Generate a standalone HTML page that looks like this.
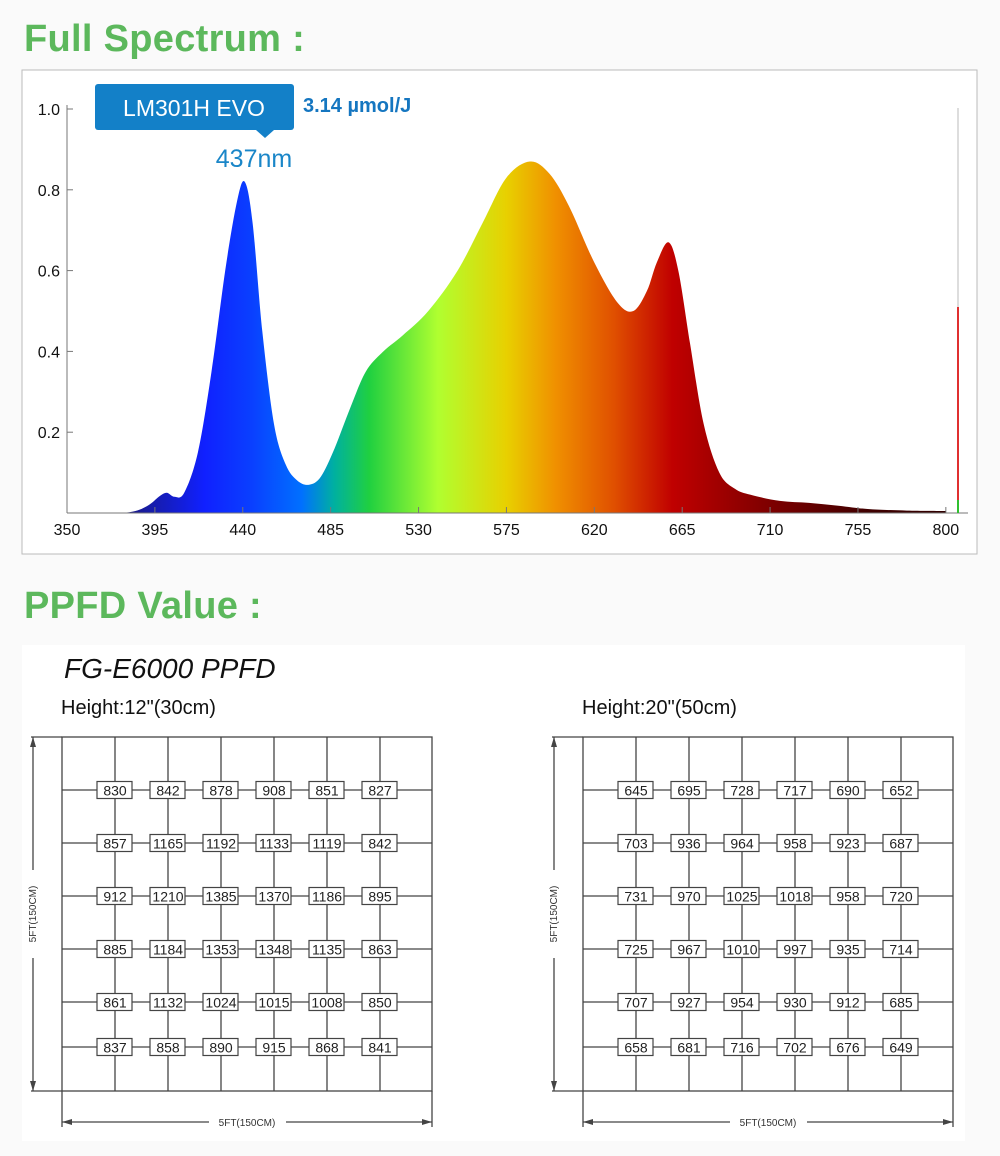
<!DOCTYPE html>
<html><head><meta charset="utf-8"><style>
body{margin:0;width:1000px;height:1156px;background:#fafafa;font-family:"Liberation Sans",sans-serif;position:relative;overflow:hidden}
.h{position:absolute;left:24px;color:#5cb85c;font-weight:bold;font-size:38px;margin:0;letter-spacing:0.3px}
svg{position:absolute;left:0;top:0}
</style></head><body>
<h1 class="h" style="top:18px">Full Spectrum :</h1>
<h1 class="h" style="top:585px">PPFD Value :</h1>
<svg id="s" width="1000" height="1156"></svg>
<script>
const wl=[350,375,385,392,397,401,405,410,417,424,431,437,441,445,450,456,462,468,474,480,487,495,503,512,522,535,550,563,575,587,597,607,620,632,640,647,652,658,663,669,676,684,692,700,715,730,745,760,780,800];
const inten=[0,0,0.005,0.02,0.04,0.05,0.04,0.05,0.15,0.35,0.6,0.77,0.82,0.72,0.45,0.22,0.12,0.08,0.07,0.09,0.16,0.26,0.35,0.4,0.44,0.5,0.6,0.72,0.83,0.87,0.84,0.76,0.62,0.52,0.5,0.55,0.62,0.67,0.6,0.42,0.22,0.1,0.06,0.045,0.03,0.025,0.018,0.01,0.006,0.005];
const xTicks=[350,395,440,485,530,575,620,665,710,755,800];
const yTicks=[0.2,0.4,0.6,0.8,1.0];
const grid1=[[830,842,878,908,851,827],[857,1165,1192,1133,1119,842],[912,1210,1385,1370,1186,895],[885,1184,1353,1348,1135,863],[861,1132,1024,1015,1008,850],[837,858,890,915,868,841]];
const grid2=[[645,695,728,717,690,652],[703,936,964,958,923,687],[731,970,1025,1018,958,720],[725,967,1010,997,935,714],[707,927,954,930,912,685],[658,681,716,702,676,649]];
const NS='http://www.w3.org/2000/svg';const s=document.getElementById('s');
function el(t,a,p){const e=document.createElementNS(NS,t);for(const k in a)e.setAttribute(k,a[k]);(p||s).appendChild(e);return e}
const X=v=>67+(v-350)*1.953, Y=v=>513-v*404;
const p1=el('rect',{x:22,y:70,width:955,height:484,fill:'#fff',stroke:'#bbb'});

const defs=el('defs',{});const g=el('linearGradient',{id:'sg',x1:X(350),x2:X(800),y1:0,y2:0,gradientUnits:'userSpaceOnUse'},defs);
[[380,'#1a1a80'],[420,'#1020ff'],[445,'#0a40ff'],[470,'#0070ff'],[487,'#00b0a0'],[505,'#20d040'],[540,'#b0ff30'],[575,'#e8d000'],[600,'#f09000'],[630,'#e05000'],[660,'#c00000'],[700,'#8a0000'],[760,'#400000'],[800,'#300000']].forEach(([w,c])=>el('stop',{offset:((w-350)/450).toFixed(3),'stop-color':c},g));
const pts=wl.map((w,i)=>[X(w),Y(inten[i])]);
let d='M'+pts[0][0]+','+pts[0][1];
for(let i=0;i<pts.length-1;i++){const p0=pts[Math.max(0,i-1)],p1_=pts[i],p2=pts[i+1],p3=pts[Math.min(pts.length-1,i+2)];
 const c1=[p1_[0]+(p2[0]-p0[0])/6,p1_[1]+(p2[1]-p0[1])/6],c2=[p2[0]-(p3[0]-p1_[0])/6,p2[1]-(p3[1]-p1_[1])/6];
 d+=` C${c1[0].toFixed(1)},${Math.min(513,c1[1]).toFixed(1)} ${c2[0].toFixed(1)},${Math.min(513,c2[1]).toFixed(1)} ${p2[0].toFixed(1)},${p2[1].toFixed(1)}`;}
d+=' L'+X(800)+','+Y(0)+'Z';
const area=el('path',{d:d,fill:'url(#sg)'});
const ya=el('line',{x1:67,y1:105,x2:67,y2:513,stroke:'#777'});
const xa=el('line',{x1:67,y1:513,x2:968,y2:513,stroke:'#777'});
yTicks.forEach(v=>{el('line',{x1:67,x2:73,y1:Y(v),y2:Y(v),stroke:'#777'});const t=el('text',{x:60,y:Y(v)+6,'text-anchor':'end','font-size':16,fill:'#111'});t.textContent=v.toFixed(1);});
xTicks.forEach(v=>{el('line',{x1:X(v),x2:X(v),y1:507,y2:513,stroke:'#777'});const t=el('text',{x:X(v),y:535,'text-anchor':'middle','font-size':16,fill:'#111'});t.textContent=v;});
el('line',{x1:958,x2:958,y1:108,y2:513,stroke:'#bbb'});el('line',{x1:958,x2:958,y1:307,y2:500,stroke:'#e03030',"stroke-width":2});el('line',{x1:958,x2:958,y1:500,y2:513,stroke:'#30c030',"stroke-width":2});
const cb=el('rect',{x:95,y:84,width:199,height:46,rx:3,fill:'#1380c8'});
el('path',{d:'M256,130 L265,138 L274,130Z',fill:'#1380c8'});
let t=el('text',{x:194,y:116,'text-anchor':'middle','font-size':23,fill:'#fff'});t.textContent='LM301H EVO';
t=el('text',{x:303,y:112,'font-size':20,'font-weight':'bold',fill:'#1576c0'});t.textContent='3.14 µmol/J';
t=el('text',{x:254,y:167,'text-anchor':'middle','font-size':25,fill:'#1a86c8'});t.textContent='437nm';
const p2=el('rect',{x:22,y:645,width:943,height:496,fill:'#fff'});
t=el('text',{x:64,y:678,'font-size':28,'font-style':'italic',fill:'#111'});t.textContent='FG-E6000 PPFD';
const cols=[115,168,221,274,327,380],rows=[790,843,896,949,1002,1047];
function grid(ox,data,label){
 const tt=el('text',{x:ox,y:714,'font-size':20,fill:'#111'});tt.textContent=label;
 const st={stroke:'#444','stroke-width':1.3,fill:'none'};
 el('rect',Object.assign({x:ox+1,y:737,width:370,height:354},st));
 cols.forEach(c=>el('line',Object.assign({x1:ox+c-61,x2:ox+c-61,y1:737,y2:1091},st)));
 rows.forEach(r=>el('line',Object.assign({x1:ox+1,x2:ox+371,y1:r,y2:r},st)));
 el('line',Object.assign({x1:ox-28,x2:ox-28,y1:737,y2:1091},st));el('line',Object.assign({x1:ox-30,x2:ox+1,y1:737,y2:737},st));el('line',Object.assign({x1:ox-30,x2:ox+1,y1:1091,y2:1091},st));
 el('path',{d:`M${ox-31},747 L${ox-28},737 L${ox-25},747Z M${ox-31},1081 L${ox-28},1091 L${ox-25},1081Z`,fill:'#444'});
 el('line',Object.assign({x1:ox+1,x2:ox+1,y1:1091,y2:1127},st));el('line',Object.assign({x1:ox+371,x2:ox+371,y1:1091,y2:1127},st));
 el('line',Object.assign({x1:ox+1,x2:ox+148,y1:1122,y2:1122},st));el('line',Object.assign({x1:ox+225,x2:ox+371,y1:1122,y2:1122},st));
 el('path',{d:`M${ox+11},1119 L${ox+1},1122 L${ox+11},1125Z M${ox+361},1119 L${ox+371},1122 L${ox+361},1125Z`,fill:'#444'});
 el('rect',{x:ox-33,y:870,width:8,height:88,fill:'#fff'});
 let a=el('text',{x:ox+186,y:1126,'text-anchor':'middle','font-size':10,fill:'#333'});a.textContent='5FT(150CM)';
 a=el('text',{x:0,y:0,'text-anchor':'middle','font-size':10,fill:'#333',transform:`translate(${ox-25},914) rotate(-90)`});a.textContent='5FT(150CM)';
 data.forEach((row,i)=>row.forEach((v,j)=>{const cx=ox+cols[j]-61,cy=rows[i];
  const b=el('rect',{x:cx-18,y:cy-8.5,width:35,height:17,fill:'#fff',stroke:'#444','stroke-width':1.2});
  const q=el('text',{x:cx,y:cy+5.5,'text-anchor':'middle','font-size':14,fill:'#222'});q.textContent=v;}));
}
grid(61,grid1,'Height:12"(30cm)');grid(582,grid2,'Height:20"(50cm)');
</script>
</body></html>
